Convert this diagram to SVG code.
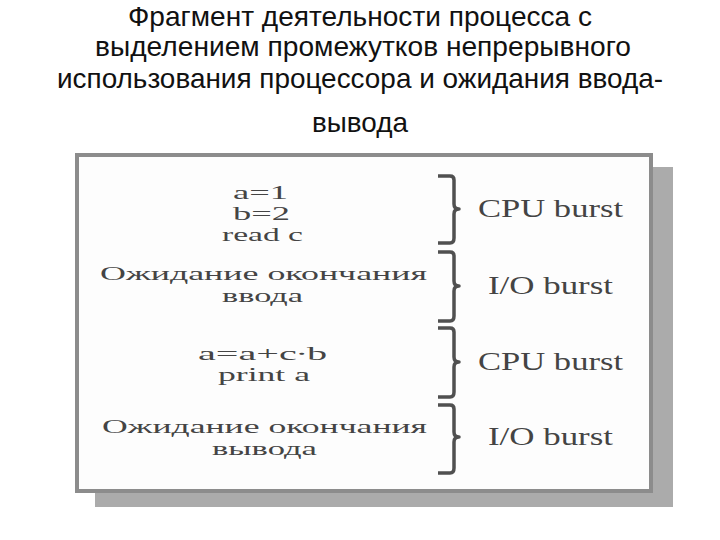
<svg xmlns="http://www.w3.org/2000/svg" width="720" height="540" viewBox="0 0 720 540">
<style>
.title{font-family:"Liberation Sans",Arial,sans-serif;font-size:28px;fill:#111;text-anchor:middle}
.code{font-family:"Liberation Serif","Times New Roman",serif;font-size:19px;fill:#444}
.lbl{font-family:"Liberation Serif","Times New Roman",serif;font-size:25px;fill:#444}
.br{fill:none;stroke:#505050;stroke-width:3.5;stroke-linejoin:round}
</style>
<rect width="720" height="540" fill="#fff"/>
<g id="title">
<text class="title" x="360" y="26" textLength="464" lengthAdjust="spacingAndGlyphs">Фрагмент деятельности процесса с</text>
<text class="title" x="363" y="56" textLength="536" lengthAdjust="spacingAndGlyphs">выделением промежутков непрерывного</text>
<text class="title" x="360" y="88" textLength="606" lengthAdjust="spacingAndGlyphs">использования процессора и ожидания ввода-</text>
<text class="title" x="360" y="132" textLength="96" lengthAdjust="spacingAndGlyphs">вывода</text>
</g>
<g id="frame">
<rect x="95" y="167" width="578" height="340" fill="#ababab"/>
<rect x="77" y="155" width="574" height="336" fill="#fdfdfd" stroke="#8c8c8c" stroke-width="4"/>
</g>
<g id="cpu1">
<text class="code" x="233" y="199" textLength="55" lengthAdjust="spacingAndGlyphs">a=1</text>
<text class="code" x="233" y="220" textLength="57" lengthAdjust="spacingAndGlyphs">b=2</text>
<text class="code" x="222" y="241" textLength="81" lengthAdjust="spacingAndGlyphs">read c</text>
</g>
<g id="io1">
<text class="code" x="100" y="280" textLength="327" lengthAdjust="spacingAndGlyphs">Ожидание окончания</text>
<text class="code" x="222" y="302" textLength="81" lengthAdjust="spacingAndGlyphs">ввода</text>
</g>
<g id="cpu2">
<text class="code" x="198" y="360" textLength="129" lengthAdjust="spacingAndGlyphs">a=a+c∙b</text>
<text class="code" x="218" y="381" textLength="92" lengthAdjust="spacingAndGlyphs">print a</text>
</g>
<g id="io2">
<text class="code" x="102" y="433" textLength="325" lengthAdjust="spacingAndGlyphs">Ожидание окончания</text>
<text class="code" x="212" y="455" textLength="105" lengthAdjust="spacingAndGlyphs">вывода</text>
</g>
<g id="connectors">
<path class="br" d="M438,176 L450,176 Q454,176 454,180 V204 Q454,209 459,209 Q454,209 454,214 V238 Q454,243 450,243 L438,243"/>
<path class="br" d="M438,252 L450,252 Q454,252 454,256 V281 Q454,286 459,286 Q454,286 454,291 V316 Q454,321 450,321 L438,321"/>
<path class="br" d="M438,328 L450,328 Q454,328 454,332 V357 Q454,362 459,362 Q454,362 454,367 V392 Q454,397 450,397 L438,397"/>
<path class="br" d="M438,405 L450,405 Q454,405 454,409 V432 Q454,437 459,437 Q454,437 454,442 V468 Q454,473 450,473 L438,473"/>
</g>
<g id="labels">
<text class="lbl" x="478" y="217" textLength="145" lengthAdjust="spacingAndGlyphs">CPU burst</text>
<text class="lbl" x="488" y="294" textLength="125" lengthAdjust="spacingAndGlyphs">I/O burst</text>
<text class="lbl" x="478" y="370" textLength="145" lengthAdjust="spacingAndGlyphs">CPU burst</text>
<text class="lbl" x="488" y="445" textLength="125" lengthAdjust="spacingAndGlyphs">I/O burst</text>
</g>
</svg>
